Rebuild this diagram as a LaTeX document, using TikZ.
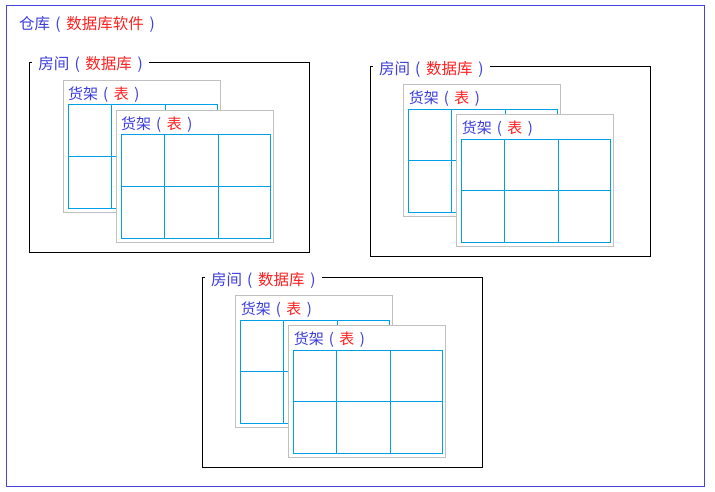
\documentclass[tikz,border=0pt]{standalone}
\usepackage{fontspec}
\newfontfamily\cjk{Noto Sans CJK SC}
\newcommand\lpar{\hspace{0.33em}(\hspace{0.37em}}
\newcommand\rpar{\hspace{0.37em})\hspace{0.33em}}
\definecolor{tb}{HTML}{3C3CDC}
\definecolor{tr}{HTML}{FF2020}
\definecolor{fb}{HTML}{4444DD}
\definecolor{gb}{HTML}{00A0E9}
\definecolor{sg}{HTML}{C0C0C0}
\tikzset{
 lbl/.style={font=\cjk\fontsize{15}{18}\selectfont, inner sep=0pt, anchor=base west},
 biglbl/.style={lbl, font=\cjk\fontsize{15.5}{18}\selectfont},
 shelfbox/.style={draw=sg, fill=white, line width=1pt},
 gridline/.style={draw=gb, line width=1pt},
 roombox/.style={draw=black, line width=1pt},
 outerbox/.style={draw=fb, line width=1pt},
 shelf/.pic={
  \path[shelfbox] (0,0) rectangle (157,132);
  \node[lbl] (-title) at (4.7,19.2) {\color{tb}货架\lpar\color{tr}表\color{tb}\rpar};
  \coordinate (-g1) at (5,24.4);
  \coordinate (-g2) at (154,128);
  \draw[gridline] (-g1) rectangle (-g2);
  \draw[gridline] (48,24.4) -- (48,128) (102,24.4) -- (102,128) (5,76) -- (154,76);
 },
 room/.pic={
  \draw[roombox] (0,0) rectangle (280,190);
  \pic (-back) at (33.6,18) {shelf};
  \pic (-front) at (86.6,48) {shelf};
  \node[biglbl, fill=white, inner xsep=6pt] (-title) at (2.5,7.5) {\color{tb}房间\lpar\color{tr}数据库\color{tb}\rpar};
 }
}
\begin{document}
\begin{tikzpicture}[x=1pt,y=-1pt]
\useasboundingbox (0,0) rectangle (715,491);
\path[outerbox] (6.3,5.3) rectangle (704.7,486);
\node[biglbl] (title) at (19,29) {\color{tb}仓库\lpar\color{tr}数据库软件\color{tb}\rpar};
\pic (r1) at (29.7,62.3) {room};
\pic (r2) at (370.3,66.7) {room};
\pic (r3) at (202.3,277.7) {room};
\end{tikzpicture}
\end{document}
